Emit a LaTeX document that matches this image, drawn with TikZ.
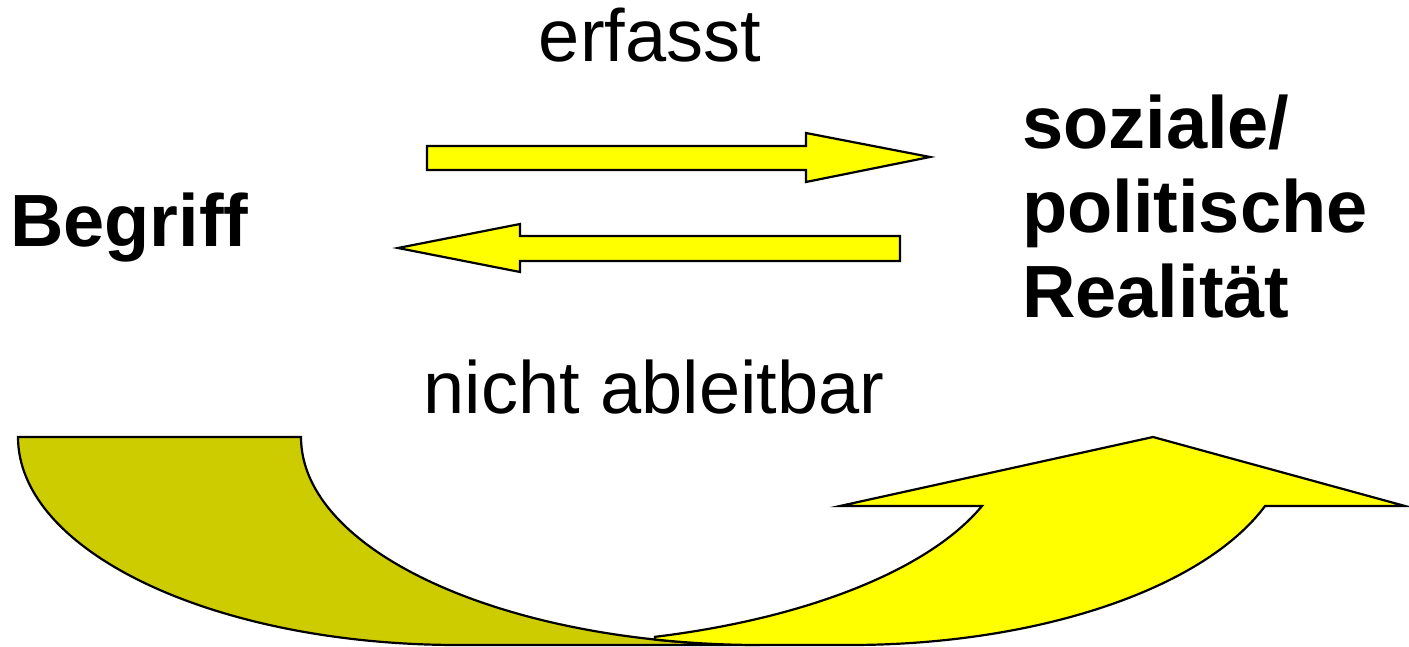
\documentclass[tikz,border=0pt]{standalone}
\usepackage{fontspec}
\setmainfont{Liberation Sans}
\definecolor{pureyellow}{RGB}{255,255,0}
\definecolor{olivey}{RGB}{204,204,0}
\begin{document}
\begin{tikzpicture}[x=1pt,y=-1pt,
  lbl/.style={inner sep=0pt,anchor=base,font=\fontsize{74}{84}\selectfont},
  blbl/.style={lbl,font=\fontsize{74}{84}\selectfont\bfseries},
  yarrow/.style={fill=pureyellow,draw=black,line width=2.2pt,line join=miter},
  oband/.style={fill=olivey,draw=black,line width=2.2pt,line join=miter}]
\useasboundingbox (0,0) rectangle (1409,647);
% texts
\node[lbl] (erf) at (650,62) {erfasst};
\node[lbl] (nab) at (654,413) {nicht ableitbar};
\node[blbl,anchor=base west] (beg) at (10,247) {Begriff};
\node[blbl,anchor=base west] (soz1) at (1022,149) {soziale/};
\node[blbl,anchor=base west] (soz2) at (1022,233) {politische};
\node[blbl,anchor=base west] (soz3) at (1022,317) {Realität};
% straight arrows
\draw[yarrow] (427,146) -- (806,146) -- (806,133) -- (930,157) -- (806,182) -- (806,170) -- (427,170) -- cycle;
\draw[yarrow] (900,236) -- (520,236) -- (520,224) -- (398,248) -- (520,272) -- (520,261) -- (900,261) -- cycle;
% curved arrow: tail band
\draw[oband] (18,437) -- (301,437)
  arc[start angle=180, end angle=90, x radius=459, y radius=208]
  -- (458,645)
  arc[start angle=90, end angle=180, x radius=440, y radius=208] -- cycle;
% curved arrow: head
\draw[yarrow] (655,639.5)
  arc[start angle=103.2, end angle=90, x radius=459, y radius=208]
  -- (850,645)
  arc[start angle=90, end angle=19.4, x radius=440, y radius=208]
  -- (1405,506) -- (1153,437) -- (840,506) -- (982,506)
  arc[start angle=19.4, end angle=74, x radius=490, y radius=208] -- cycle;
\end{tikzpicture}
\end{document}
